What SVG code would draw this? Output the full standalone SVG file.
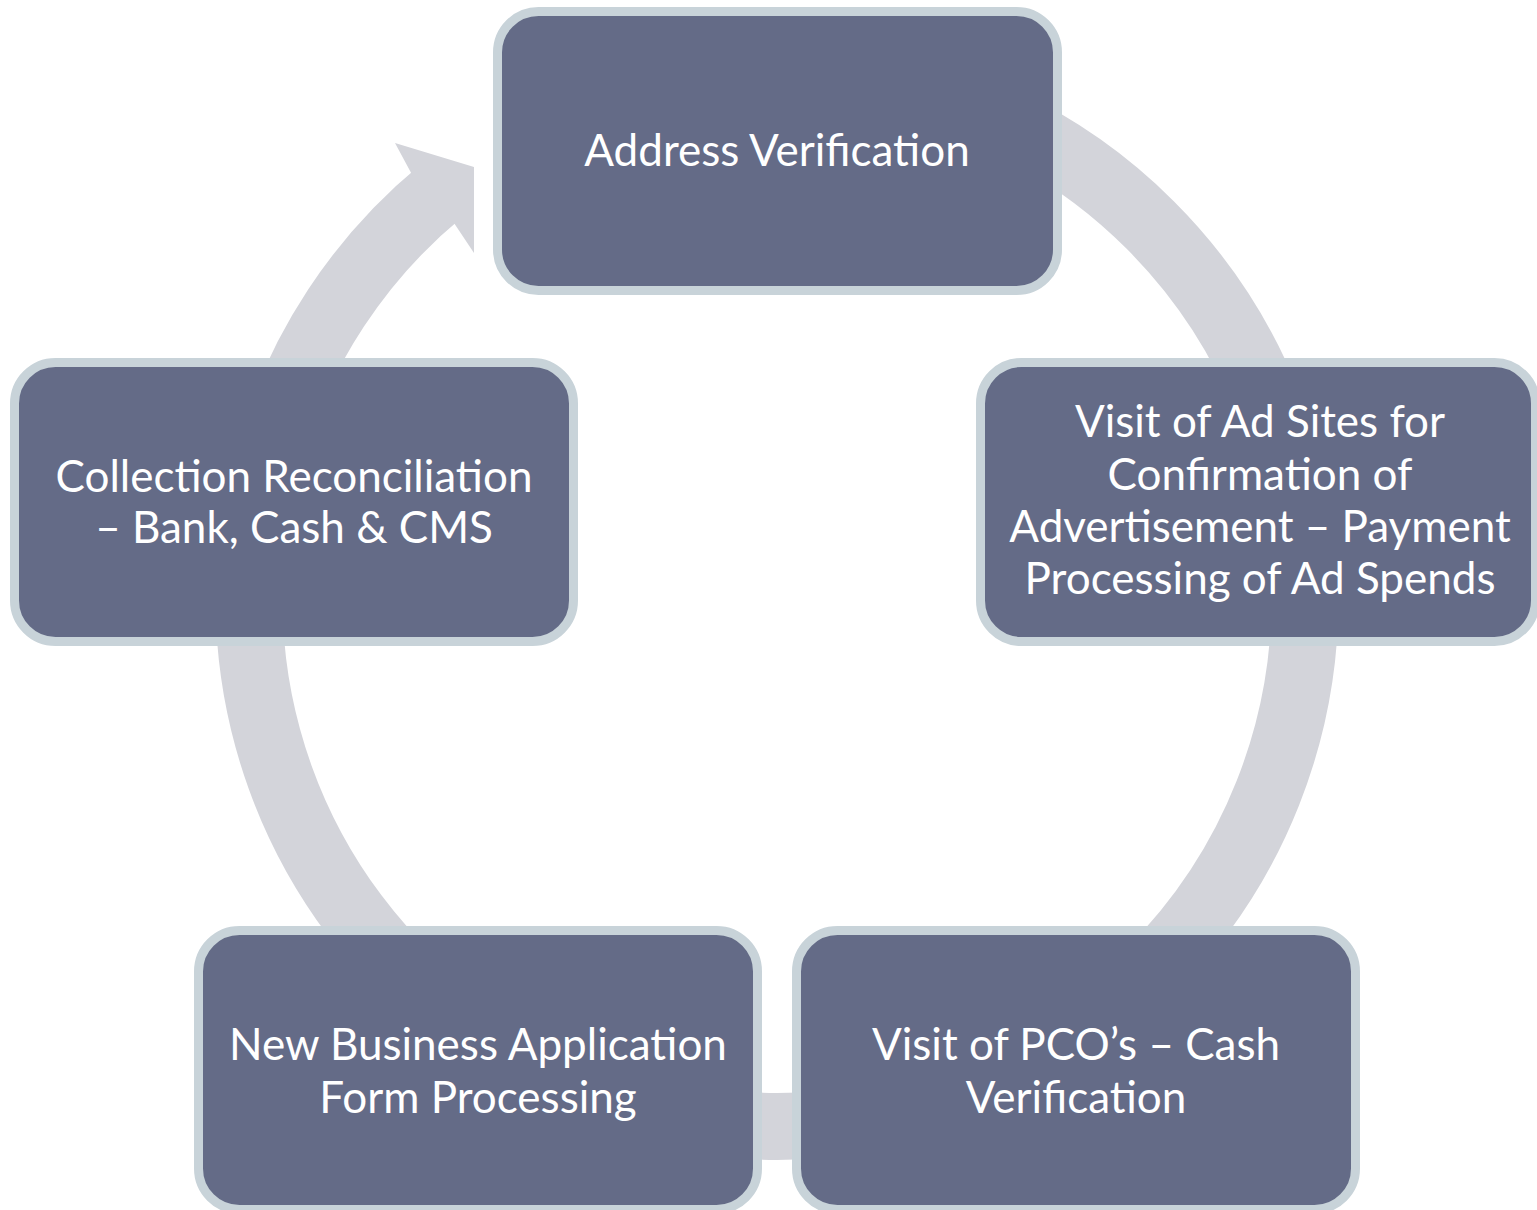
<svg xmlns="http://www.w3.org/2000/svg" width="1537" height="1210" viewBox="0 0 1537 1210">
<style>
.box{fill:#646b87;stroke:#c8d3d9;stroke-width:9}
.lbl{fill:#ffffff;font-family:Lato,"Open Sans","Liberation Sans",sans-serif;font-size:44px;text-anchor:middle}
.ring{fill:none;stroke:#d3d4da;stroke-width:67}
.head{fill:#d3d4da}
</style>
<rect width="1537" height="1210" fill="#ffffff"/>
<g id="connectors">
<path class="ring" d="M 777 70.5 A 528 528 0 0 1 777 1126.5 A 528 528 0 0 1 441.1 191.1"/>
<polygon class="head" points="412.5,175.5 395,143 474,167 474,253 453,221.5"/>
</g>
<g id="node-address">
<rect class="box" x="497.5" y="11.5" width="560" height="279" rx="41" ry="41"/>
<text class="lbl" x="777" y="166">Address Verification</text>
</g>
<g id="node-adsites">
<rect class="box" x="980.5" y="362.5" width="555" height="279" rx="41" ry="41"/>
<text class="lbl" x="1260" y="437">Visit of Ad Sites for</text>
<text class="lbl" x="1260" y="490">Confirmation of</text>
<text class="lbl" x="1260" y="542">Advertisement – Payment</text>
<text class="lbl" x="1260" y="594">Processing of Ad Spends</text>
</g>
<g id="node-pco">
<rect class="box" x="796.5" y="930.5" width="559" height="279" rx="41" ry="41"/>
<text class="lbl" x="1076" y="1060">Visit of PCO’s – Cash</text>
<text class="lbl" x="1076" y="1113">Verification</text>
</g>
<g id="node-newbusiness">
<rect class="box" x="198.5" y="930.5" width="559" height="279" rx="41" ry="41"/>
<text class="lbl" x="478" y="1060">New Business Application</text>
<text class="lbl" x="478" y="1113">Form Processing</text>
</g>
<g id="node-collection">
<rect class="box" x="14.5" y="362.5" width="559" height="279" rx="41" ry="41"/>
<text class="lbl" x="294" y="492">Collection Reconciliation</text>
<text class="lbl" x="294" y="543">– Bank, Cash &amp; CMS</text>
</g>
</svg>
